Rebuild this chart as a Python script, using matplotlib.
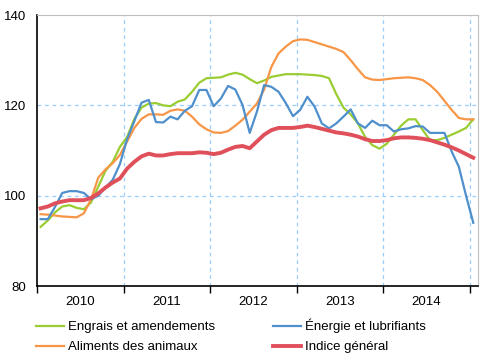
import numpy as np
import matplotlib
matplotlib.use('Agg')
import matplotlib.pyplot as plt

plt.rcParams['font.family'] = ['Liberation Sans', 'DejaVu Sans']

# monthly index values, Jan 2010 .. Jan 2015 (61 months)
engrais = [93.1, 94.5, 96.3, 97.6, 97.9, 97.3, 97.0, 98.5, 102.0, 105.5,
           107.5, 110.8, 113.0, 117.0, 119.5, 120.4, 120.5, 120.0, 119.8, 120.8,
           121.3, 123.0, 125.0, 126.0, 126.1, 126.2, 126.8, 127.2, 126.8, 125.8,
           124.9, 125.5, 126.3, 126.6, 126.9, 126.9, 126.9, 126.8, 126.7, 126.5,
           126.0, 122.5, 119.5, 118.0, 116.0, 113.0, 111.2, 110.4, 111.5, 113.5,
           115.5, 116.9, 116.9, 114.5, 112.3, 112.3, 112.8, 113.5, 114.2, 115.0,
           116.9]
aliments = [95.9, 95.8, 95.6, 95.4, 95.3, 95.2, 96.1, 99.2, 104.0, 105.8,
            107.2, 109.0, 112.0, 115.0, 117.0, 118.0, 118.0, 117.9, 118.8, 119.1,
            118.8, 117.5, 115.8, 114.7, 114.0, 113.9, 114.3, 115.5, 116.8, 118.6,
            120.4, 123.5, 128.5, 131.5, 133.0, 134.2, 134.6, 134.5, 134.0, 133.5,
            133.0, 132.5, 131.8, 130.0, 128.0, 126.2, 125.7, 125.6, 125.8, 126.0,
            126.1, 126.2, 126.0, 125.6, 124.5, 123.0, 121.0, 119.0, 117.2, 116.9,
            116.9]
energie = [94.8, 94.8, 97.5, 100.6, 101.0, 101.0, 100.6, 99.2, 100.0, 101.8,
           103.5, 107.0, 112.5, 116.5, 120.6, 121.2, 116.3, 116.2, 117.5, 116.9,
           118.8, 119.8, 123.4, 123.4, 119.8, 121.5, 124.3, 123.5, 120.1, 113.9,
           118.6, 124.5, 124.1, 123.0, 120.5, 117.6, 119.0, 121.9, 119.7, 116.0,
           114.9, 116.0, 117.5, 119.1, 116.0, 115.0, 116.6, 115.6, 115.6, 114.2,
           114.7, 114.9, 115.4, 115.3, 113.9, 113.9, 113.9, 109.8, 106.4, 100.0,
           94.0]
indice = [97.2, 97.6, 98.3, 98.7, 99.0, 99.0, 99.0, 99.5, 100.5, 101.8,
          102.9, 103.8, 106.0, 107.5, 108.7, 109.3, 108.9, 108.9, 109.2, 109.4,
          109.4, 109.4, 109.6, 109.5, 109.2, 109.5, 110.2, 110.8, 111.0, 110.5,
          112.0, 113.5, 114.5, 115.0, 115.0, 115.0, 115.2, 115.5, 115.2, 114.8,
          114.4, 114.0, 113.8, 113.5, 113.1, 112.5, 112.1, 112.1, 112.3, 112.7,
          112.9, 112.9, 112.8, 112.6, 112.3, 111.8, 111.3, 110.7, 110.0, 109.2,
          108.4]
years = ['2010', '2011', '2012', '2013', '2014']
series_labels = ['Engrais et amendements', 'Aliments des animaux',
                 'Énergie et lubrifiants', 'Indice général']

months = np.arange(len(indice))

fig = plt.figure(figsize=(4.81, 3.58), dpi=100)
ax = fig.add_axes([0.0769, 0.2011, 0.9169, 0.757])

grid_col = '#99CCFF'
l1, = ax.plot(months, engrais, color='#9ACD32', lw=1.6)
l2, = ax.plot(months, aliments, color='#F79646', lw=1.6)
l3, = ax.plot(months, energie, color='#4F90CC', lw=1.6)
l4, = ax.plot(months, indice, color='#E0505A', lw=2.8)

ax.set_xlim(-0.5, 60.66)
ax.set_ylim(80, 140)
ax.set_yticks([80, 100, 120, 140])
for v in [100, 120]:
    ax.axhline(v, color=grid_col, lw=0.9, ls=(0, (3, 3)), zorder=0)

bounds = np.arange(len(years) + 1) * 12 - 0.5
for b in bounds[1:]:
    ax.axvline(b, color=grid_col, lw=0.9, ls=(0, (3, 3)), zorder=0)
ax.set_xticks(bounds)
ax.set_xticklabels([])
ax.set_xticks(np.arange(len(years)) * 12 + 5.5, minor=True)
ax.set_xticklabels(years, minor=True)
ax.tick_params(axis='x', which='major', length=5, width=1, direction='out')
ax.tick_params(axis='x', which='minor', length=0, pad=7, labelsize=9.5)
ax.tick_params(axis='y', length=0, pad=8, labelsize=9.5)

ax.spines['left'].set_color('black')
ax.spines['bottom'].set_color('black')
ax.spines['left'].set_linewidth(1.2)
ax.spines['bottom'].set_linewidth(1.2)
ax.spines['top'].set_color('#BFBFBF')
ax.spines['right'].set_color('#BFBFBF')

fig.legend([l1, l2, l3, l4], series_labels, ncol=2, frameon=False,
           loc='upper left', bbox_to_anchor=(0.075, 0.110),
           bbox_transform=fig.transFigure, fontsize=9.5,
           handlelength=2.1, handletextpad=0.3, columnspacing=4.4,
           labelspacing=0.6, borderpad=0, borderaxespad=0)

fig.savefig('out.png', dpi=100)
